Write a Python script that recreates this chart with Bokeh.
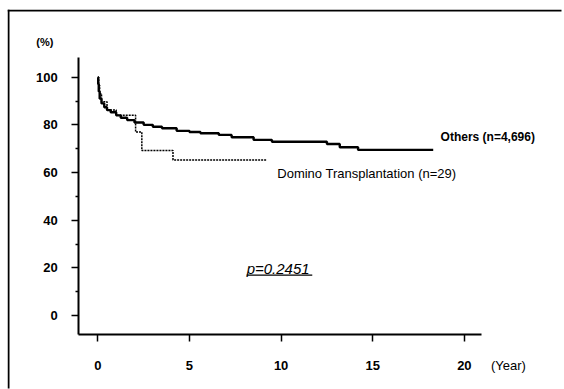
from bokeh.plotting import figure
from bokeh.models import Range1d, FixedTicker, Label, LinearAxis
from bokeh.embed import file_html
from bokeh.resources import INLINE

# Kaplan-Meier survival (%)
others_years = [0, 0.02, 0.05, 0.1, 0.2, 0.35, 0.5, 0.7, 1.0, 1.25, 1.6, 2.0, 2.5,
                3.0, 3.5, 4.3, 5.0, 5.6, 6.6, 7.3, 8.5, 9.5, 12.5, 13.2, 14.2]
others_surv = [100, 97, 94, 91, 89, 87.4, 86.2, 85.3, 84, 83, 82, 81, 80,
               79.2, 78.6, 77.5, 77, 76.5, 75.8, 74.8, 73.7, 72.9, 72.0, 70.6, 69.5]
others_end = 18.3

domino_years = [0, 0.05, 0.1, 0.2, 0.5, 1.0, 2.06, 2.4, 4.1]
domino_surv = [100, 96.6, 93.1, 89.7, 86.2, 84.0, 77.0, 69.2, 65.3]
domino_end = 9.2

x_ticks = [0, 5, 10, 15, 20]
y_ticks = [0, 20, 40, 60, 80, 100]
y_minor = [10, 30, 50, 70, 90]

others_label = "Others (n=4,696)"
domino_label = "Domino Transplantation (n=29)"
p_label = "p=0.2451"
x_unit_label = "(Year)"
y_unit_label = "(%)"

FONT = "Liberation Sans"

# axis extents (data units)
X_AX = (-1.04, 20.93)
Y_AX = (-8.0, 108.4)
# page window (data units)
XR = (-4.93, 25.30)
YR = (-30.6, 128.4)
PX_X = (XR[1] - XR[0]) / 554.0   # data units per pixel
PX_Y = (YR[1] - YR[0]) / 379.0

p = figure(width=564, height=389, output_backend="svg", toolbar_location=None,
           x_range=Range1d(*XR), y_range=Range1d(*YR),
           x_axis_location=None, y_axis_location=None,
           min_border_left=7, min_border_right=3, min_border_top=9, min_border_bottom=1)
p.background_fill_color = "white"
p.border_fill_color = "white"
p.outline_line_color = None
p.grid.visible = False

# invisible (white) first stroke along the bottom of the window
p.line(x=[XR[0], XR[1]], y=[YR[0], YR[0]], line_color="white", line_width=10)

# page frame: top and left edges as thin filled bands
p.quad(left=[XR[0], XR[0]], right=[XR[0] + 2 * PX_X, XR[1] + 1],
       bottom=[YR[0] - 1, YR[1] - 2 * PX_Y], top=[YR[1], YR[1]],
       fill_color="black", line_color=None)

# data lines
ox = others_years + [others_end]
oy = others_surv + [others_surv[-1]]
dx = domino_years + [domino_end]
dy = domino_surv + [domino_surv[-1]]
p.step(ox, oy, mode="after", line_color="black", line_width=2.4)
p.step(dx, dy, mode="after", line_color="black", line_width=1.5, line_dash="2 1")

xaxis = LinearAxis(fixed_location=Y_AX[0], bounds=X_AX, ticker=FixedTicker(ticks=x_ticks))
yaxis = LinearAxis(fixed_location=X_AX[0], bounds=Y_AX,
                   ticker=FixedTicker(ticks=y_ticks, minor_ticks=y_minor))
for ax in (xaxis, yaxis):
    ax.axis_line_width = 2
    ax.axis_line_color = "black"
    ax.major_tick_line_color = "black"
    ax.major_tick_line_width = 1.5
    ax.major_tick_in = 0
    ax.major_tick_out = 7
    ax.major_label_text_font = FONT
    ax.major_label_text_font_style = "bold"
    ax.major_label_text_font_size = "13px"
    ax.major_label_text_color = "black"
xaxis.minor_tick_line_color = None
xaxis.major_label_standoff = 19
yaxis.minor_tick_line_color = "black"
yaxis.minor_tick_line_width = 1.5
yaxis.minor_tick_in = 0
yaxis.minor_tick_out = 3
yaxis.major_label_standoff = 14
p.add_layout(xaxis, "below")
p.add_layout(yaxis, "left")

# texts
p.add_layout(Label(x=18.7, y=74.8, text=others_label, text_font=FONT, text_font_size="12px",
                   text_font_style="bold", text_baseline="middle", text_color="black"))
p.add_layout(Label(x=9.79, y=59.5, text=domino_label, text_font=FONT, text_font_size="13px",
                   text_baseline="middle", text_color="black"))
p.add_layout(Label(x=8.12, y=19.9, text=p_label, text_font=FONT, text_font_size="15px",
                   text_font_style="italic", text_baseline="middle", text_color="black"))
p.add_layout(Label(x=-3.36, y=114.6, text=y_unit_label, text_font=FONT, text_font_size="11px",
                   text_font_style="bold", text_baseline="middle", text_color="black"))
p.add_layout(Label(x=21.45, y=-21.0, text=x_unit_label, text_font=FONT, text_font_size="13px",
                   text_baseline="middle", text_color="black"))

# underline of the p-value
p.segment(x0=[8.12], y0=[17.0], x1=[11.7], y1=[17.0], line_color="black", line_width=1.3)

open("out.html", "w").write(file_html(p, INLINE))
